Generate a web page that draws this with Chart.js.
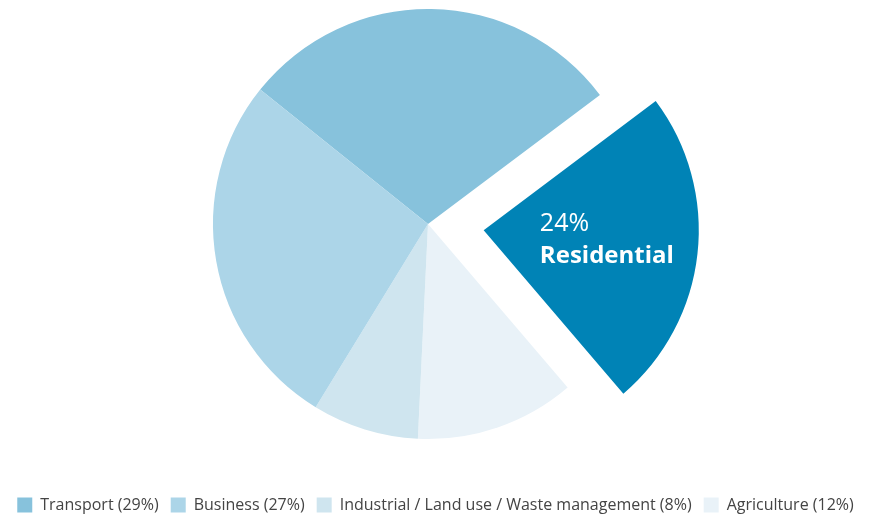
<!DOCTYPE html>
<html>
<head>
<meta charset="utf-8">
<script src="https://cdn.jsdelivr.net/npm/chart.js@4"></script>
<style>
  html, body { margin: 0; padding: 0; background: #ffffff; overflow: hidden; }
  #wrap { position: absolute; left: 0; top: 0; width: 871px; height: 523px; }
</style>
</head>
<body>
<div id="wrap"><canvas id="c"></canvas></div>
<script>
// Slices in clockwise drawing order, starting from the top-left
const categories = ['Transport', 'Residential', 'Agriculture', 'Industrial / Land use / Waste management', 'Business'];
const shares = [29, 24, 12, 8, 27];
const colors = ['#87c2dc', '#0083b6', '#e9f2f8', '#cfe5ef', '#acd5e8'];
const legendOrder = ['Transport', 'Business', 'Industrial / Land use / Waste management', 'Agriculture'];
const highlighted = 'Residential';
const explode = 56; // pixels the highlighted slice is pulled out

const labels = categories.map((c, i) => c === highlighted ? c : `${c} (${shares[i]}%)`);
// Chart.js v4 translates an arc by offset/4
const offsets = categories.map(c => c === highlighted ? explode * 4 : 0);

const fixedArea = {
  id: 'fixedArea',
  afterLayout(chart) {
    const ca = chart.chartArea;
    ca.left = 213; ca.right = 643; ca.top = 9; ca.bottom = 439;
    ca.width = ca.right - ca.left; ca.height = ca.bottom - ca.top;
  }
};

const sliceLabel = {
  id: 'sliceLabel',
  afterDatasetsDraw(chart) {
    const idx = categories.indexOf(highlighted);
    const arc = chart.getDatasetMeta(0).data[idx];
    const p = arc.getProps(['x', 'y', 'startAngle', 'endAngle', 'outerRadius'], true);
    const mid = (p.startAngle + p.endAngle) / 2;
    const off = (arc.options.offset || 0) / 4;
    const cx = p.x + Math.cos(mid) * off;
    const cy = p.y + Math.sin(mid) * off;
    const ax = cx + Math.cos(mid) * p.outerRadius * 0.263;
    const ay = cy + Math.sin(mid) * p.outerRadius * 0.263;
    const ctx = chart.ctx;
    ctx.save();
    ctx.fillStyle = '#ffffff';
    ctx.textAlign = 'left';
    ctx.textBaseline = 'middle';
    ctx.font = '25px "Open Sans"';
    ctx.fillText(shares[idx] + '%', ax, ay - 12);
    ctx.font = 'bold 24px "Open Sans"';
    ctx.fillText(highlighted, ax, ay + 20);
    ctx.restore();
  }
};

new Chart(document.getElementById('c'), {
  type: 'pie',
  data: {
    labels: labels,
    datasets: [{
      data: shares,
      backgroundColor: colors,
      borderWidth: 0,
      offset: offsets,
      clip: false
    }]
  },
  options: {
    responsive: true,
    maintainAspectRatio: false,
    animation: false,
    rotation: -51.3,
    radius: 215,
    layout: { padding: 0 },
    plugins: {
      tooltip: { enabled: false },
      legend: {
        position: 'bottom',
        labels: {
          font: { family: '"Open Sans"', size: 16 },
          color: '#444444',
          boxWidth: 15,
          boxHeight: 15,
          padding: 12,
          filter: (item) => item.text !== highlighted,
          sort: (a, b) => legendOrder.indexOf(categories[a.index]) - legendOrder.indexOf(categories[b.index])
        }
      }
    }
  },
  plugins: [fixedArea, sliceLabel]
});
</script>
</body>
</html>
